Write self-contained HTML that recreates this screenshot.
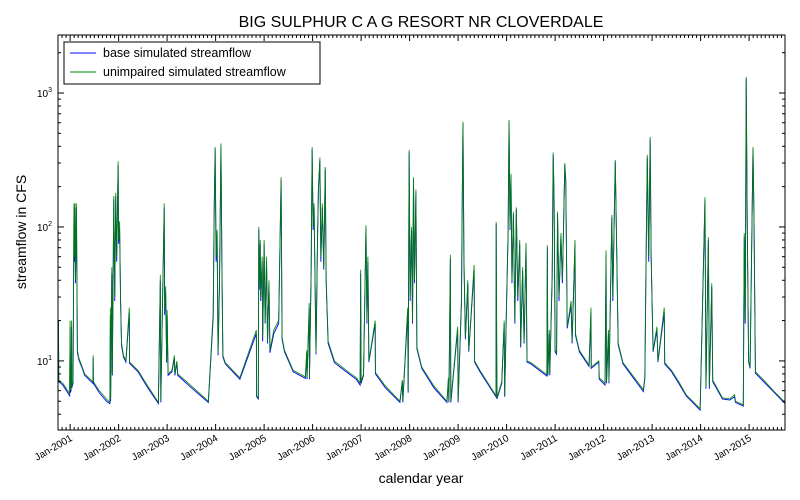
<!DOCTYPE html>
<html><head><meta charset="utf-8"><style>
body{margin:0;background:#fff;}
svg{display:block;font-family:"Liberation Sans","DejaVu Sans",sans-serif;}
</style></head><body>
<svg id="chart" width="800" height="500" viewBox="0 0 800 500">
<rect x="0" y="0" width="800" height="500" fill="#fff"/>
<text x="421" y="27" text-anchor="middle" font-size="16">BIG SULPHUR C A G RESORT NR CLOVERDALE</text>
<g id="series"></g>
<g id="axes"></g>
<text x="421" y="483" text-anchor="middle" font-size="14">calendar year</text>
<text transform="translate(26,232) rotate(-90)" text-anchor="middle" font-size="14">streamflow in CFS</text>
<g>
<rect x="64" y="42" width="256" height="42" fill="#fff" stroke="#000" stroke-width="1"/>
<line x1="70" y1="53" x2="96" y2="53" stroke="#0000ff" stroke-width="1"/>
<text x="103" y="57" font-size="12.5">base simulated streamflow</text>
<line x1="70" y1="72" x2="96" y2="72" stroke="#008000" stroke-width="1"/>
<text x="103" y="76" font-size="12.5">unimpaired simulated streamflow</text>
</g>
</svg>
<script>
const dates=[2000.750,2000.760,2000.765,2000.85,2000.95,2000.99,2001.000,2001.005,2001.02,2001.03,2001.035,2001.06,2001.08,2001.09,2001.10,2001.11,2001.13,2001.15,2001.18,2001.25,2001.30,2001.47,2001.475,2001.48,2001.60,2001.75,2001.82,2001.83,2001.835,2001.86,2001.87,2001.90,2001.92,2001.94,2001.96,2001.99,2002.00,2002.02,2002.04,2002.06,2002.10,2002.15,2002.22,2002.225,2002.40,2002.60,2002.82,2002.86,2002.87,2002.94,2002.95,2002.97,2002.99,2003.00,2003.02,2003.10,2003.15,2003.16,2003.20,2003.22,2003.50,2003.85,2003.95,2003.97,2003.99,2004.01,2004.03,2004.05,2004.08,2004.11,2004.13,2004.15,2004.20,2004.50,2004.84,2004.845,2004.88,2004.89,2004.90,2004.92,2004.93,2004.96,2004.97,2005.00,2005.02,2005.05,2005.07,2005.10,2005.12,2005.20,2005.30,2005.35,2005.37,2005.42,2005.60,2005.85,2005.88,2005.885,2005.93,2005.935,2005.97,2005.99,2006.01,2006.03,2006.05,2006.07,2006.10,2006.12,2006.15,2006.17,2006.20,2006.23,2006.26,2006.28,2006.32,2006.45,2006.77,2006.90,2006.98,2006.99,2007.00,2007.05,2007.10,2007.12,2007.14,2007.16,2007.29,2007.295,2007.50,2007.80,2007.85,2007.86,2007.96,2007.97,2007.99,2008.01,2008.04,2008.06,2008.08,2008.10,2008.13,2008.15,2008.25,2008.50,2008.77,2008.80,2008.81,2008.84,2008.85,2008.99,2009.00,2009.07,2009.08,2009.10,2009.12,2009.15,2009.20,2009.22,2009.33,2009.34,2009.45,2009.78,2009.785,2009.80,2009.90,2009.95,2009.96,2010.00,2010.03,2010.05,2010.07,2010.09,2010.11,2010.14,2010.17,2010.20,2010.23,2010.27,2010.29,2010.33,2010.36,2010.40,2010.42,2010.50,2010.83,2010.84,2010.85,2010.88,2010.89,2010.94,2010.96,2010.98,2011.00,2011.03,2011.05,2011.08,2011.12,2011.15,2011.20,2011.22,2011.25,2011.33,2011.35,2011.41,2011.42,2011.50,2011.70,2011.74,2011.745,2011.90,2011.91,2012.03,2012.05,2012.06,2012.10,2012.11,2012.17,2012.19,2012.24,2012.26,2012.30,2012.40,2012.82,2012.85,2012.87,2012.90,2012.93,2012.96,2012.98,2013.02,2013.10,2013.12,2013.25,2013.26,2013.40,2013.55,2013.70,2013.72,2013.99,2014.09,2014.11,2014.16,2014.18,2014.23,2014.25,2014.45,2014.60,2014.70,2014.72,2014.88,2014.90,2014.92,2014.94,2014.96,2014.99,2015.02,2015.08,2015.10,2015.13,2015.30,2015.50,2015.74];
const unimpaired=[20,20,7.2,6.8,6.0,5.7,20,6,6.2,20,6.5,7,150,60,150,40,150,12,10.5,9,8,7,11,7,6,5.2,4.9,25,5.2,50,8,170,30,180,60,310,80,110,30,13.6,11,10,25,9.8,8.5,6.5,4.9,44,5,150,24,36,10,24,8,8.5,11,8,10,8,6.5,5,23,133,395,60,95,11.5,40,420,50,11,9.7,7.5,17,5.5,5.3,100,36,80,30,60,15,80,20,60,14,40,12,17,20,235,15,12,8.5,7.6,12,7.5,27,7.5,50,395,100,150,40,11.5,80,200,330,60,150,50,280,40,14,10,8.1,7.5,6.8,48,7,8,103,20,60,10,20,8.2,6.5,5,7.2,5,25,6,375,30,100,20,235,40,190,12.7,9,6.5,5,7.5,5,62,5,18,5,30,100,610,60,15,40,12,52,10,8.5,5.5,109,5.3,7,20,5.5,30,90,630,100,250,40,130,20,140,30,80,13,50,14,76,10,9.7,7.9,73,8,17,8,45,360,160,12,11.5,130,30,90,40,300,225,18,28,14,80,16,12,9.3,25,9,10,7.5,6.8,67,7,17,7,123,30,316,117,13.6,9.7,6.1,7.6,39,345,60,470,64,12,18,10,25,9.7,8.5,7,5.6,5.5,4.4,167,6.4,84,6.4,38,7.2,5.3,5.2,5.6,5,4.7,90,20,1320,125,10,9,395,128,8.3,7.2,6,4.9];
const base=[20,20,7.0,6.6,5.8,5.5,18,5.8,6.0,18,6.3,6.8,140,55,140,38,140,11.5,10.2,8.8,7.8,6.8,10.5,6.8,5.8,5.0,4.8,22,5.0,45,7.8,160,28,170,55,290,75,100,28,13,10.7,9.8,23,9.6,8.3,6.3,4.8,40,4.9,140,22,33,9.7,22,7.8,8.3,10.5,7.8,9.7,7.8,6.3,4.9,21,125,380,55,90,11,38,400,48,10.7,9.5,7.3,16,5.4,5.2,95,34,75,28,55,14,75,19,55,13.5,38,11.5,16,19,225,14.5,11.7,8.3,7.4,11.5,7.3,25,7.3,46,380,95,140,38,11.2,75,190,310,55,140,48,270,38,13.5,9.7,7.9,7.3,6.6,45,6.8,7.8,98,19,55,9.8,19,8,6.3,4.9,7,4.9,23,5.8,360,28,95,19,225,38,180,12.3,8.8,6.3,4.9,7.3,4.9,58,4.9,17,4.9,28,95,590,55,14.5,38,11.7,48,9.8,8.3,5.4,105,5.2,6.8,19,5.4,28,85,610,95,240,38,125,19,135,28,75,12.6,47,13.5,72,9.8,9.5,7.7,70,7.8,16,7.8,42,345,150,11.7,11.2,125,28,85,38,290,215,17.5,26,13.5,75,15.5,11.7,9.1,23,8.8,9.8,7.3,6.6,62,6.8,16,6.8,118,28,305,112,13.2,9.5,5.9,7.4,36,330,55,450,60,11.7,17,9.8,23,9.5,8.3,6.8,5.5,5.4,4.3,160,6.2,80,6.2,36,7,5.2,5.1,5.4,4.9,4.6,85,19,1280,120,9.8,8.8,380,122,8.1,7,5.9,4.8];
const xTickYears=[2001,2002,2003,2004,2005,2006,2007,2008,2009,2010,2011,2012,2013,2014,2015];
const yTickExps=[1,2,3];

const NS='http://www.w3.org/2000/svg';
const L=58,R=785,T=35,B=430;
const X0=2000.75,X1=2015.74;
const YMIN=Math.log10(3.05),YMAX=Math.log10(2710);
function xs(t){return L+(t-X0)/(X1-X0)*(R-L);}
function ys(v){return B-(Math.log10(v)-YMIN)/(YMAX-YMIN)*(B-T);}
function mk(tag,attrs,parent){const e=document.createElementNS(NS,tag);for(const k in attrs)e.setAttribute(k,attrs[k]);parent.appendChild(e);return e;}
const sg=document.getElementById('series');
const ag=document.getElementById('axes');
function pathFor(vals){return vals.map((v,i)=>(i?'L':'M')+xs(dates[i]).toFixed(2)+' '+ys(v).toFixed(2)).join(' ');}
const pb=mk('path',{d:pathFor(base),fill:'none',stroke:'#0000ff','stroke-width':0.9},sg);


const pu=mk('path',{d:pathFor(unimpaired),fill:'none',stroke:'#008000','stroke-width':0.9,'stroke-opacity':0.9},sg);


const frame=mk('rect',{x:L,y:T,width:R-L,height:B-T,fill:'none',stroke:'#000','stroke-width':1},ag);


// x ticks
for(let y=2000;y<=2016;y++){for(let m=0;m<12;m++){const t=y+m/12;if(t<X0||t>X1)continue;const x=xs(t);const len=m===0?6:3;
mk('line',{x1:x,y1:B,x2:x,y2:B-len,stroke:'#000','stroke-width':1},ag);
mk('line',{x1:x,y1:T,x2:x,y2:T+len,stroke:'#000','stroke-width':1},ag);}}
xTickYears.forEach(yr=>{const x=xs(yr);
const tx=mk('text',{x:0,y:0,'font-size':10,'text-anchor':'end',transform:`translate(${x+3},${B+10}) rotate(-30)`},ag);
tx.textContent='Jan-'+yr;

});
// y ticks
for(let e=0;e<=3;e++){for(let k=1;k<10;k++){const v=k*Math.pow(10,e);const lv=Math.log10(v);if(lv<YMIN||lv>YMAX)continue;const y=ys(v);const len=k===1?6:3;
mk('line',{x1:L,y1:y,x2:L+len,y2:y,stroke:'#000','stroke-width':1},ag);
mk('line',{x1:R,y1:y,x2:R-len,y2:y,stroke:'#000','stroke-width':1},ag);}}
yTickExps.forEach(e=>{const y=ys(Math.pow(10,e));
const tx=mk('text',{x:L-6,y:y+4,'font-size':10,'text-anchor':'end'},ag);


tx.appendChild(document.createTextNode('10'));
const sp=mk('tspan',{dy:-5,'font-size':7},tx);sp.textContent=String(e);});
</script>
</body></html>
